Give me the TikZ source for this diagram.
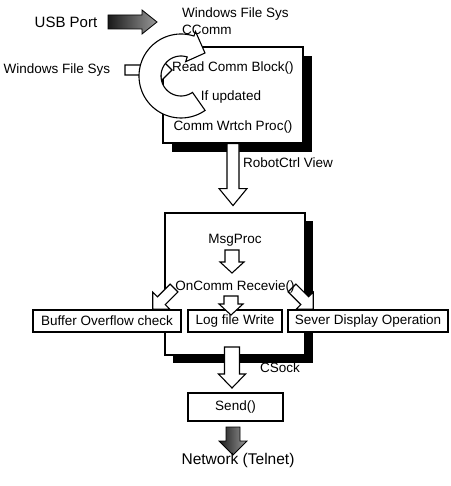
\documentclass[tikz,border=0pt]{standalone}
\usepackage{fontspec}
\setmainfont{Liberation Sans}
% #1 style, #2 start point, #3 canvas angle, #4 length, #5 body half width, #6 head half width, #7 head length
\newcommand{\blockarr}[7]{\path[#1,shift={#2},rotate=#3] (0,-#5) -- ({#4-#7},-#5) -- ({#4-#7},-#6) -- (#4,0) -- ({#4-#7},#6) -- ({#4-#7},#5) -- (0,#5) -- cycle;}
\begin{document}
\begin{tikzpicture}[x=1pt,y=-1pt,
  every node/.style={inner sep=0pt, font=\fontsize{13.5}{16}\selectfont},
  box/.style={draw, line width=1.1pt, fill=white},
  arr/.style={draw, line width=1.1pt, fill=white, line join=miter},
  garr/.style={draw, line width=0.8pt},
  shadowbox/.style={fill=black}
]
\useasboundingbox (0,0) rectangle (450,486);

% shadows
\path[shadowbox] (172,56) rectangle (312,152);
\path[shadowbox] (173,221) rectangle (313,363);

% main boxes
\node[box, minimum width=140pt, minimum height=96pt] (comm) at (233,95) {};
\node[box, minimum width=140pt, minimum height=142pt] (msg) at (235,284) {};

% Windows File Sys arrow (under the circular arrow)
\node (wfs) at (57,70) {Windows File Sys};
\coordinate (wfsstart) at (125,70);
\blockarr{arr}{(wfsstart)}{0}{47}{5}{11}{11}

% circular arrow
\filldraw[arr] plot[domain=55:288,samples=60] ({181+42*cos(\x)},{76+42*sin(\x)})
  -- (195.5,31.5) -- (205,53) -- (185.6,61.7)
  -- plot[domain=288:55,samples=60] ({181+20*cos(\x)},{76+20*sin(\x)}) -- cycle;

% comm -> msg
\blockarr{arr}{(comm.south)}{-90}{62}{6}{14}{17}

% MsgProc -> OnComm
\coordinate (mpstart) at (232,250);
\blockarr{arr}{(mpstart)}{-90}{23}{7}{12}{11}

% row boxes
\node[box, minimum width=148pt, minimum height=22pt] (buf) at (107,321) {Buffer Overflow check};
\node[box, minimum width=94pt, minimum height=22pt] (log) at (235,321) {Log file Write};
\node[box, minimum width=160pt, minimum height=22pt] (sev) at (368,321) {Sever Display Operation};

% OnComm -> three boxes
\coordinate (dl) at (174,288);
\coordinate (dr) at (292,288);
\coordinate (dm) at (231,296);
\blockarr{arr}{(dl)}{225}{30}{5.5}{12}{12}
\blockarr{arr}{(dr)}{-45}{30}{5.5}{12}{12}
\blockarr{arr}{(dm)}{-90}{19}{7}{12}{11}

% msg -> Send
\coordinate (sendarr) at (232,347);
\blockarr{arr}{(sendarr)}{-90}{41}{7.5}{13.5}{14}
\node[box, minimum width=95pt, minimum height=28pt] (send) at (235.5,407) {Send()};

% gray arrows
\coordinate (usbarr) at (108,22);
\blockarr{garr, left color=black!90, right color=black!40}{(usbarr)}{0}{49}{7}{12}{15}
\coordinate (netarr) at (233,427);
\blockarr{garr, left color=black!90, right color=black!40}{(netarr)}{-90}{28}{7}{14}{14}

% texts
\node[font=\fontsize{15}{18}\selectfont] (usb) at (66,22) {USB Port};
\node[anchor=west] (wfs2) at (182,14) {Windows File Sys};
\node[anchor=west] (ccomm) at (182,30) {CComm};
\node[anchor=west] (rcb) at (172,68) {Read Comm Block()};
\node (ifu) at (231,97) {If updated};
\node (cwp) at (233,127) {Comm Wrtch Proc()};
\node[anchor=west] (rv) at (243,163) {RobotCtrl View};
\node (mp) at (235,240) {MsgProc};
\node (ocr) at (235,287) {OnComm Recevie()};
\node[anchor=west] (cs) at (260,368) {CSock};
\node[font=\fontsize{15.5}{18}\selectfont] (net) at (238,460) {Network (Telnet)};
\end{tikzpicture}
\end{document}
